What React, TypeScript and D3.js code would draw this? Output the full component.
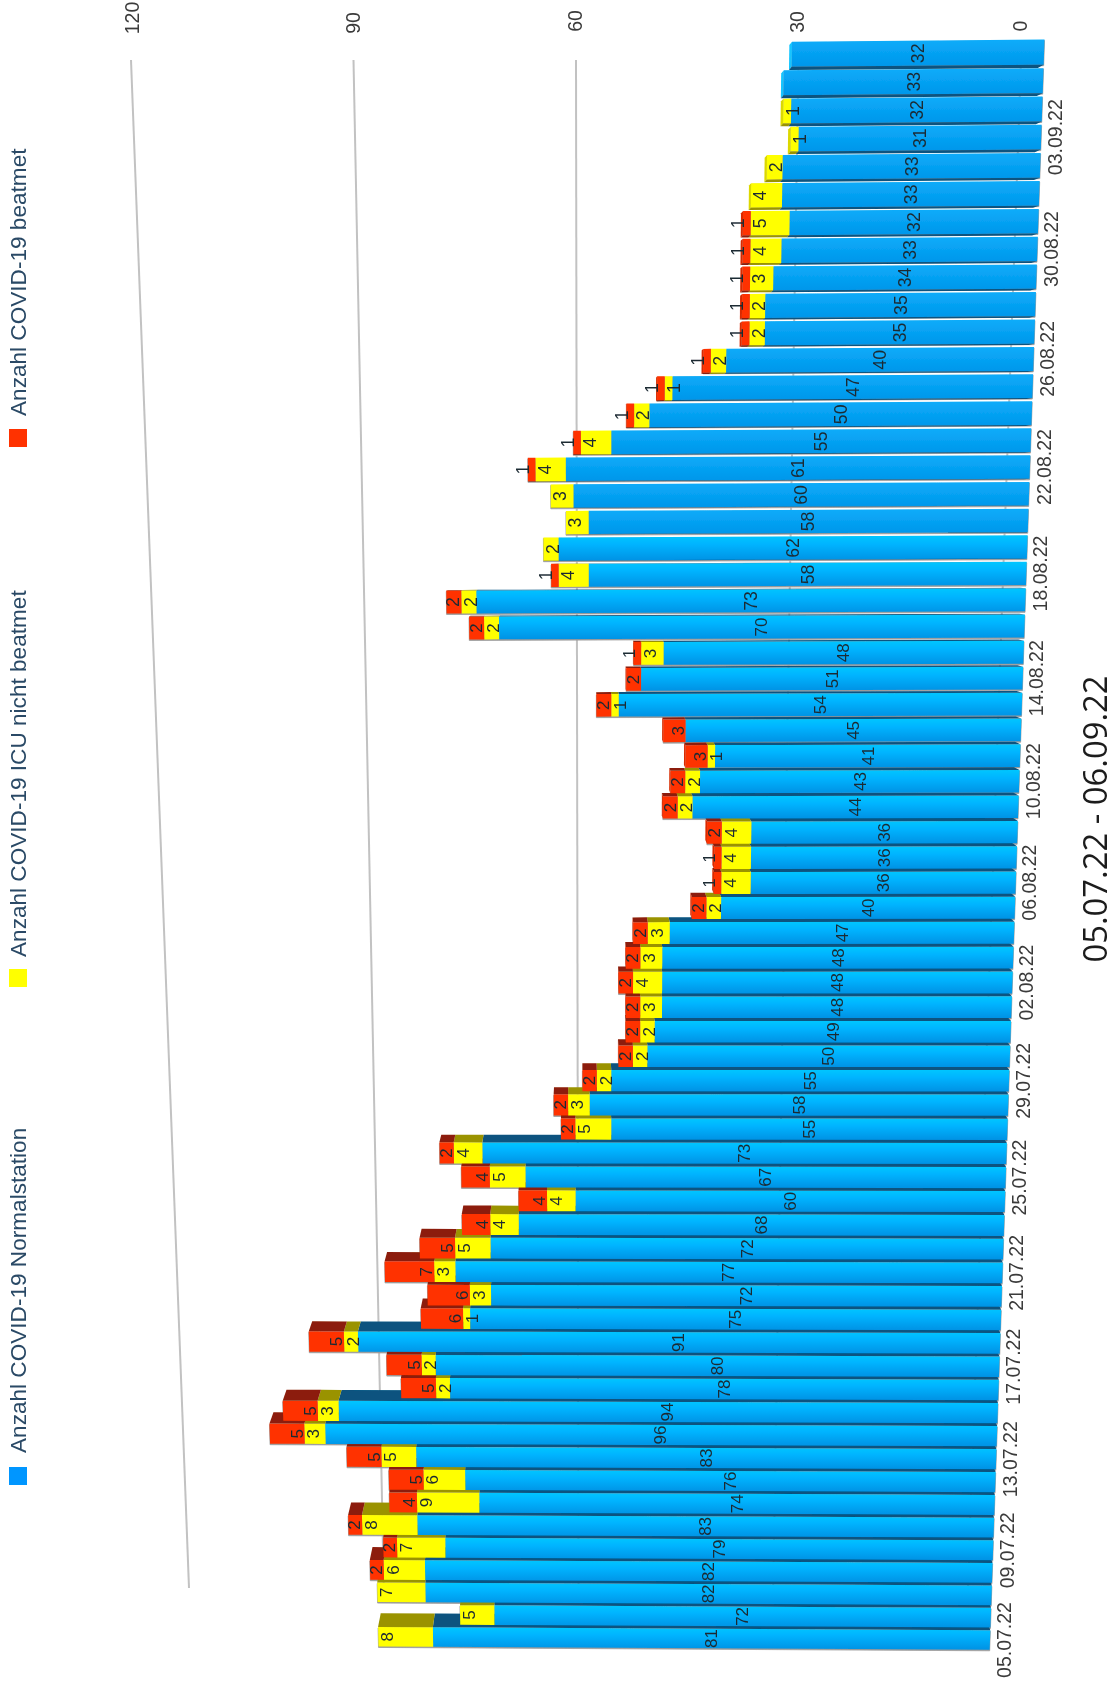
import React from "react";
import * as d3 from "d3";

const tickLabels = ["05.07.22","09.07.22","13.07.22","17.07.22","21.07.22","25.07.22","29.07.22","02.08.22","06.08.22","10.08.22","14.08.22","18.08.22","22.08.22","26.08.22","30.08.22","03.09.22"];
const normal = [81,72,82,82,79,83,74,76,83,96,94,78,80,91,75,72,77,72,68,60,67,73,55,58,55,50,49,48,48,48,47,40,36,36,36,44,43,41,45,54,51,48,70,73,58,62,58,60,61,55,50,47,40,35,35,34,33,32,33,33,31,32,33,32];
const icu = [8,5,7,6,7,8,9,6,5,3,3,2,2,2,1,3,3,5,4,4,5,4,5,3,2,2,2,3,4,3,3,2,4,4,4,2,2,1,0,1,0,3,2,2,4,2,3,3,4,4,2,1,2,2,2,3,4,5,4,2,1,1,0,0];
const vent = [0,0,0,2,2,2,4,5,5,5,5,5,5,5,6,6,7,5,4,4,4,2,2,2,2,2,2,2,2,2,2,2,1,1,2,2,2,3,3,2,2,1,2,2,1,0,0,0,1,1,1,1,1,1,1,1,1,1,0,0,0,0,0,0];
const valueTicks = [0, 30, 60, 90, 120];
const legendItems = ["Anzahl COVID-19 Normalstation", "Anzahl COVID-19 ICU nicht beatmet", "Anzahl COVID-19 beatmet"];
const title = "05.07.22 - 06.09.22";

const W = 1115, H = 1688;
const FONT = "'Liberation Sans', Arial, sans-serif";
const N = normal.length;
const band = d3.scaleBand<number>().domain(d3.range(N)).range([0, N]).paddingInner(0.12).paddingOuter(0.06);
const val = d3.scaleLinear().domain([0, 120]).range([0, 822]);
const gridTop = d3.scaleLinear().domain([0, 120]).range([1021, 131]);
const gridBottom = d3.scaleLinear().domain([0, 120]).range([968, 189]);

// planar perspective of the chart plane
function P(u: number, vPx: number): [number, number] {
  const t = u - 0.5;
  const w = 1 - 0.00185 * t + (vPx / 6.85) * 6.1e-5;
  return [(990 - 1.073 * t - vPx * (1 + 0.00015 * t)) / w, (1640 - 25.3 * t + (vPx / 6.85) * 0.063) / w];
}
const VX = 580, VY = 550;
function back([x, y]: [number, number]): [number, number] {
  const ky = y > VY ? 0.0128 : 0.0065;
  return [x + 0.0128 * (VX - x), y + ky * (VY - y)];
}
const path = (pts: [number, number][]) => "M" + pts.map((p) => p[0].toFixed(2) + "," + p[1].toFixed(2)).join("L") + "Z";

const SERIES = [
  { data: normal, face: "url(#blue)", flat: "url(#blueTop)", side: "#07527f", cap: "#12c4ff" },
  { data: icu, face: "#ffff00", flat: "#ffff00", side: "#9a9300", cap: "#dcd800" },
  { data: vent, face: "#ff3300", flat: "#ff3300", side: "#8c1d08", cap: "#d92a00" },
];

function segments(i: number) {
  let acc = 0;
  return SERIES.map((s, si) => {
    const a = acc;
    const b = acc + s.data[i];
    acc = b;
    return { si, a, b, s };
  }).filter((d) => d.b > d.a);
}

function sideFace(i: number) {
  const u0 = band(i)!;
  const u1 = u0 + band.bandwidth();
  const above = P(u1, 0)[1] > VY;
  const e = above ? u1 : u0;
  return segments(i).map((d) => {
    const p1 = P(e, val(d.a)), p2 = P(e, val(d.b));
    return <path key={"s" + i + "-" + d.si} d={path([p1, p2, back(p2), back(p1)])} fill={d.s.side} />;
  });
}

export default function App() {
  const bars: React.ReactNode[] = [];
  d3.range(N).forEach((i) => {
    const u0 = band(i)!;
    const u1 = u0 + band.bandwidth();
    const segs = segments(i);
    const top = segs[segs.length - 1];
    const vTop = val(top.b);
    const capPts: [number, number][] = [P(u0, vTop), P(u1, vTop), back(P(u1, vTop)), back(P(u0, vTop))];
    bars.push(<path key={"h" + i} d={path([P(u0, 0), P(u0, vTop), P(u1, vTop), P(u1, 0)])} transform="translate(0,1)" fill="#9a9a9a" stroke="#9a9a9a" strokeWidth={0.8} />);
    if (i > 0) bars.push(...sideFace(i - 1));
    if (P(u0, vTop)[0] > VX) bars.push(<path key={"c" + i} d={path(capPts)} fill={top.s.cap} />);
    segs.forEach((d) => {
      bars.push(<path key={"f" + i + "-" + d.si} d={path([P(u0, val(d.a)), P(u0, val(d.b)), P(u1, val(d.b)), P(u1, val(d.a))])} fill={i >= 46 ? d.s.flat : d.s.face} />);
    });
    if (i === N - 1) bars.push(...sideFace(i));
  });

  const labels: React.ReactNode[] = [];
  d3.range(N).forEach((i) => {
    const uc = band(i)! + band.bandwidth() / 2;
    const scale = P(uc, 0)[1] < 600 ? 1.04 : 1;
    const fs = 17 * scale;
    const cap = fs * 0.72;
    const a1 = normal[i], a2 = a1 + icu[i], a3 = a2 + vent[i];
    const put = (key: string, v: number, xb: number, y: number) =>
      labels.push(
        <text key={key} transform={`translate(${xb.toFixed(1)},${y.toFixed(1)}) rotate(-90)`} textAnchor="middle" fontSize={fs} fill="#1c2a33">{v}</text>
      );
    const pc = P(uc, val(a1 / 2));
    put(`n${i}`, a1, pc[0] + cap / 2, pc[1]);
    if (icu[i]) {
      const p = P(uc, val(a2));
      put(`i${i}`, icu[i], p[0] + 2.5 + cap, p[1]);
    }
    if (vent[i]) {
      const base = P(uc, val(a2));
      const topP = P(uc, val(a3));
      const xb = vent[i] === 1 ? topP[0] + 1 : base[0] - 2;
      put(`v${i}`, vent[i], xb, base[1]);
    }
  });

  const ticksDates = tickLabels.map((lab, k) => {
    const i = k * 4;
    const p = P(band(i)! + band.bandwidth() / 2, 0);
    return (
      <text key={lab} transform={`translate(${(p[0] + 20.5).toFixed(1)},${p[1].toFixed(1)}) rotate(-90)`} textAnchor="middle" fontSize={19.5} fill="#3a3a3a">{lab}</text>
    );
  });

  const legendLayout = [
    { swatch: "#0096ff", sy: 1467, ty: 1453 },
    { swatch: "#ffff00", sy: 969, ty: 957 },
    { swatch: "#ff3300", sy: 429, ty: 416 },
  ];

  return (
    <svg width={W} height={H} viewBox={`0 0 ${W} ${H}`} style={{ position: "absolute", left: 0, top: 0, background: "#fff" }} fontFamily={FONT}>
      <defs>
        <linearGradient id="blue" x1="0" x2="0" y1="0" y2="1">
          <stop offset="0" stopColor="#00c6ff" />
          <stop offset="0.35" stopColor="#00b4ff" />
          <stop offset="1" stopColor="#0092e4" />
        </linearGradient>
        <linearGradient id="blueTop" x1="0" x2="0" y1="0" y2="1">
          <stop offset="0" stopColor="#0cacfa" />
          <stop offset="1" stopColor="#0096ea" />
        </linearGradient>
        <filter id="soft" x="-2%" y="-2%" width="104%" height="104%">
          <feGaussianBlur stdDeviation="0.6" />
        </filter>
        <filter id="softText" x="-2%" y="-2%" width="104%" height="104%">
          <feGaussianBlur stdDeviation="0.4" />
        </filter>
      </defs>
      <g filter="url(#soft)">
        {valueTicks.map((v) => (
          <line key={v} x1={gridTop(v)} y1={60} x2={gridBottom(v)} y2={1588} stroke="#c2c2c2" strokeWidth={2} />
        ))}
        {bars}
      </g>
      <g filter="url(#softText)">
        {labels}
        {ticksDates}
        {valueTicks.map((v, i) => (
          <text key={v} transform={`translate(${[1027, 804, 582, 360, 139][i]},${[26, 22, 21, 23, 18][i]}) rotate(-90)`} textAnchor="middle" fontSize={19.5} fill="#3a3a3a">{v}</text>
        ))}
        {legendItems.map((t, i) => (
          <g key={t}>
            <rect x={9} y={legendLayout[i].sy} width={18} height={18} fill={legendLayout[i].swatch} />
            <text transform={`translate(26,${legendLayout[i].ty}) rotate(-90)`} fontSize={22.6} fill="#2a4a66">{t}</text>
          </g>
        ))}
        <text transform="translate(1107,819) rotate(-90)" textAnchor="middle" fontSize={32.8} fontFamily="'Open Sans', sans-serif" fill="#1a1a1a">{title}</text>
      </g>
    </svg>
  );
}
